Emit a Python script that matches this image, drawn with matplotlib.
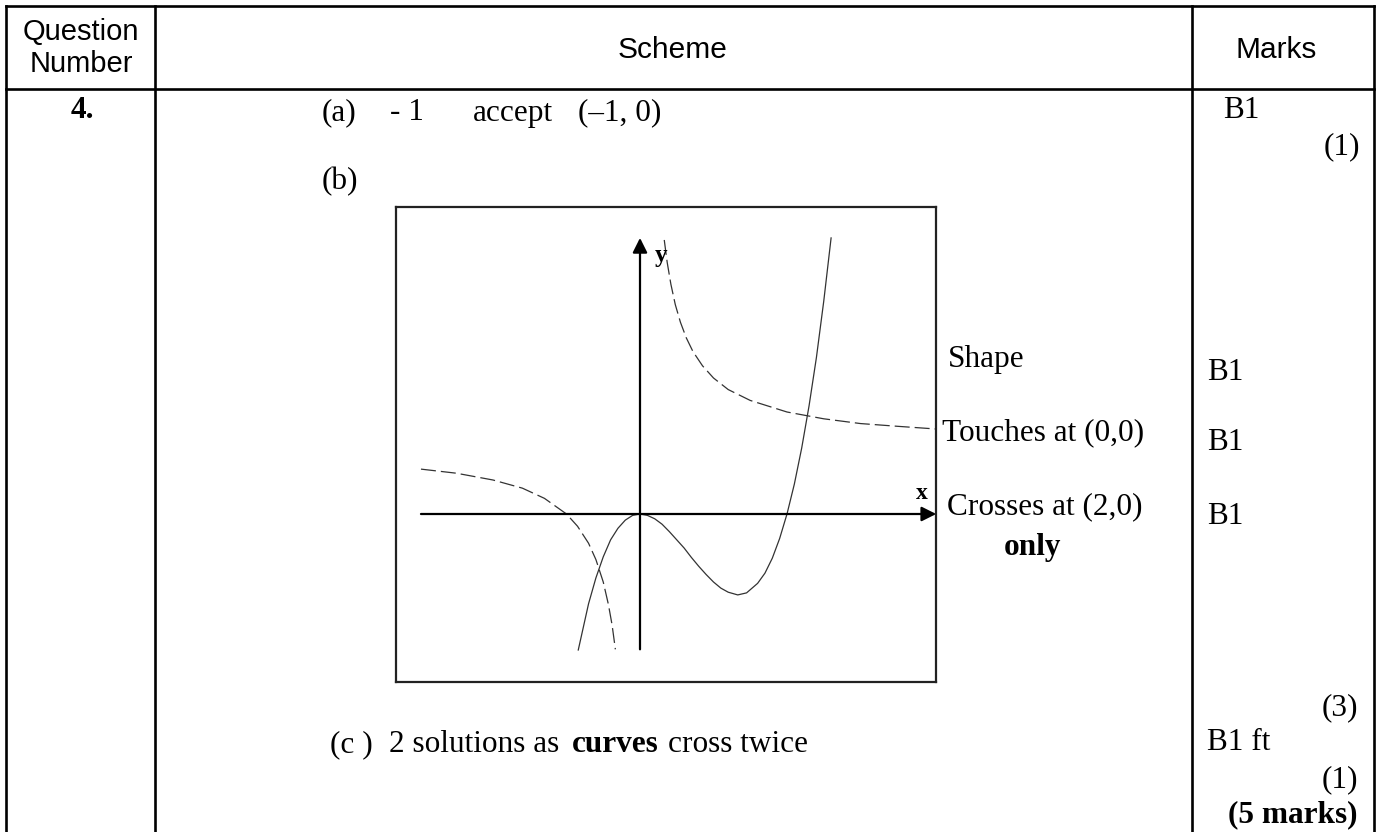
import matplotlib
matplotlib.use("Agg")
import matplotlib.pyplot as plt

# ── data (graph units) ───────────────────────────────────────────
# solid curve: touches at (0,0), crosses at (2,0)
cubic_x = [-0.84, -0.7, -0.6, -0.5, -0.4, -0.3, -0.2, -0.1, 0.0, 0.1, 0.2, 0.3, 0.4, 0.5,
           0.6, 0.7, 0.8, 0.9, 1.0, 1.1, 1.2, 1.33, 1.45, 1.6, 1.7, 1.8, 1.9, 2.0,
           2.1, 2.2, 2.3, 2.4, 2.5, 2.6]
cubic_y = [-2.00, -1.32, -0.94, -0.63, -0.38, -0.21, -0.09, -0.02, 0.0, -0.02, -0.07, -0.15,
           -0.26, -0.38, -0.50, -0.64, -0.77, -0.89, -1.00, -1.09, -1.15, -1.19, -1.16,
           -1.02, -0.87, -0.65, -0.36, 0.0, 0.44, 0.97, 1.59, 2.30, 3.13, 4.06]

# dashed curve, left branch (crosses x-axis at -1)
hyp_left_x = [-2.98, -2.5, -2.0, -1.6, -1.3, -1.0, -0.85, -0.7, -0.6, -0.5, -0.43, -0.38, -0.335]
hyp_left_y = [0.66, 0.60, 0.50, 0.38, 0.23, 0.0, -0.18, -0.43, -0.67, -1.0, -1.33, -1.63, -1.99]

# dashed curve, right branch
hyp_right_x = [0.33, 0.37, 0.42, 0.48, 0.55, 0.63, 0.72, 0.85, 1.0, 1.2, 1.5, 2.0, 2.5, 3.0, 3.5, 4.03]
hyp_right_y = [4.03, 3.70, 3.38, 3.08, 2.82, 2.59, 2.39, 2.18, 2.00, 1.83, 1.67, 1.50, 1.40, 1.33, 1.29, 1.25]

# ── table texts ──────────────────────────────────────────────────
header = ["Question\nNumber", "Scheme", "Marks"]
question = "4."
criteria = ["Shape", "Touches at (0,0)", "Crosses at (2,0)"]
marks = ["B1", "B1", "B1"]

W, H = 1379, 832
SERIF = "Liberation Serif"
SANS = "Liberation Sans"

fig = plt.figure(figsize=(W / 100, H / 100), dpi=100)
ax = fig.add_axes([0, 0, 1, 1])
ax.set_xlim(0, W)
ax.set_ylim(H, 0)
ax.axis("off")

# table grid (no bottom border, page is cut)
lw_tab = 1.9
ax.plot([6, 1374], [6, 6], color="black", lw=lw_tab, solid_capstyle="projecting")
ax.plot([6, 1374], [89, 89], color="black", lw=lw_tab)
for xv in [6, 155, 1192, 1374]:
    ax.plot([xv, xv], [6, H + 5], color="black", lw=lw_tab)

# header
ax.text(81, 48, header[0], ha="center", va="center", fontsize=21, family=SANS, linespacing=1.2)
ax.text(673, 50, header[1], ha="center", va="center", fontsize=21.5, family=SANS)
ax.text(1276, 50, header[2], ha="center", va="center", fontsize=21.5, family=SANS)

fs = 22.5
ax.text(82, 110, question, ha="center", va="center", fontsize=fs, family=SERIF, weight="bold")

# (a)
ax.text(322, 113, "(a)", ha="left", va="center", fontsize=fs, family=SERIF)
ax.text(390, 113, "- 1", ha="left", va="center", fontsize=fs, family=SERIF)
ax.text(473, 113, "accept", ha="left", va="center", fontsize=fs, family=SERIF)
ax.text(578, 113, "(\u20131, 0)", ha="left", va="center", fontsize=fs, family=SERIF)
ax.text(1223, 110, "B1", ha="left", va="center", fontsize=fs, family=SERIF)
ax.text(1360, 147, "(1)", ha="right", va="center", fontsize=fs, family=SERIF)

# (b)
ax.text(322, 182, "(b)", ha="left", va="center", fontsize=fs, family=SERIF)
crit_x = [948, 942, 947]
crit_y = [360, 433, 507]
mark_y = [372, 443, 517]
for cx, cy, label, my, mk in zip(crit_x, crit_y, criteria, mark_y, marks):
    ax.text(cx, cy, label, ha="left", va="center", fontsize=fs, family=SERIF)
    ax.text(1207, my, mk, ha="left", va="center", fontsize=fs, family=SERIF)
ax.text(1032, 547, "only", ha="center", va="center", fontsize=fs, family=SERIF, weight="bold")
ax.text(1358, 708, "(3)", ha="right", va="center", fontsize=fs, family=SERIF)

# (c)
base_c = 752
ax.text(330, base_c, "(c )", ha="left", va="baseline", fontsize=fs, family=SERIF)
ax.text(389, base_c, "2 solutions as", ha="left", va="baseline", fontsize=fs, family=SERIF)
ax.text(572, base_c, "curves", ha="left", va="baseline", fontsize=fs, family=SERIF, weight="bold")
ax.text(668, base_c, "cross twice", ha="left", va="baseline", fontsize=fs, family=SERIF)
ax.text(1207, 742, "B1 ft", ha="left", va="center", fontsize=fs, family=SERIF)
ax.text(1358, 780, "(1)", ha="right", va="center", fontsize=fs, family=SERIF)
ax.text(1358, 815, "(5 marks)", ha="right", va="center", fontsize=fs, family=SERIF, weight="bold")

# ── sketch graph ─────────────────────────────────────────────────
bx0, by0, bx1, by1 = 396, 207, 936, 682
ox, oy, sx, sy = 640, 514, 73.5, 68.0
g = fig.add_axes([bx0 / W, 1 - by1 / H, (bx1 - bx0) / W, (by1 - by0) / H])
g.set_xlim((bx0 - ox) / sx, (bx1 - ox) / sx)
g.set_ylim((oy - by1) / sy, (oy - by0) / sy)
g.set_xticks([])
g.set_yticks([])
for sp in g.spines.values():
    sp.set_linewidth(1.6)
    sp.set_color("#222222")

arrow = dict(arrowstyle="-|>", lw=1.6, color="black", mutation_scale=22, shrinkA=0, shrinkB=0)
g.annotate("", xy=(4.03, 0), xytext=(-2.98, 0), arrowprops=arrow)
g.annotate("", xy=(0, 4.06), xytext=(0, -1.99), arrowprops=arrow)
g.text(0.28, 3.8, "y", ha="center", va="center", fontsize=18, family=SERIF, weight="bold")
g.text(3.84, 0.3, "x", ha="center", va="center", fontsize=17, family=SERIF, weight="bold")

g.plot(cubic_x, cubic_y, color="#333333", lw=0.9)
g.plot(hyp_left_x, hyp_left_y, color="#333333", lw=0.9, dashes=(12, 4))
g.plot(hyp_right_x, hyp_right_y, color="#333333", lw=0.9, dashes=(12, 4))

fig.savefig("out.png", dpi=100)
